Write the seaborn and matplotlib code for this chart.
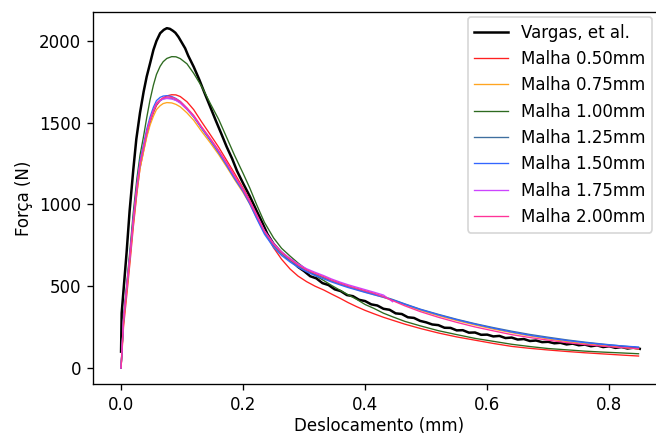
import matplotlib
matplotlib.use("Agg")
import matplotlib.pyplot as plt
import pandas as pd
import seaborn as sns

# Experimental reference curve (Vargas, et al.)
vargas_x = [0.000, 0.001, 0.005, 0.009, 0.014, 0.020, 0.025, 0.031, 0.037, 0.042,
            0.048, 0.053, 0.058, 0.064, 0.070, 0.075, 0.080, 0.085, 0.089, 0.094,
            0.0995, 0.105, 0.110, 0.119, 0.128, 0.137, 0.146, 0.155, 0.164, 0.173,
            0.182, 0.190, 0.200, 0.211, 0.222, 0.230, 0.240,
            0.25, 0.26, 0.27, 0.28, 0.29, 0.30, 0.31, 0.32, 0.33, 0.34,
            0.35, 0.36, 0.37, 0.38, 0.39, 0.40, 0.41, 0.42, 0.43, 0.44,
            0.45, 0.46, 0.47, 0.48, 0.49, 0.50, 0.51, 0.52, 0.53, 0.54,
            0.55, 0.56, 0.57, 0.58, 0.59, 0.60, 0.61, 0.62, 0.63, 0.64,
            0.65, 0.66, 0.67, 0.68, 0.69, 0.70, 0.71, 0.72, 0.73, 0.74,
            0.75, 0.76, 0.77, 0.78, 0.79, 0.80, 0.81, 0.82, 0.83, 0.84, 0.85]
vargas_y = [100, 336, 520, 703, 960, 1211, 1400, 1560, 1690, 1782,
            1870, 1945, 2000, 2047, 2068, 2078, 2074, 2062, 2050, 2025,
            1990, 1955, 1910, 1842, 1765, 1680, 1598, 1515, 1435, 1353,
            1280, 1205, 1129, 1050, 962, 900, 818,
            758, 716, 680, 655, 618, 592, 561, 548, 519, 507,
            481, 470, 446, 439, 417, 409, 389, 382, 362, 356,
            334, 330, 310, 306, 288, 279, 266, 262, 246, 245,
            230, 231, 216, 217, 203, 204, 193, 196, 183, 186,
            174, 177, 165, 168, 158, 160, 151, 154, 144, 149,
            139, 143, 133, 138, 128, 133, 123, 128, 119, 124, 117]

# Simulations, one displacement grid for all meshes
malha_x = [0.000, 0.004, 0.010, 0.015, 0.020, 0.026, 0.031, 0.037, 0.042, 0.0475,
           0.053, 0.058, 0.064, 0.069, 0.075, 0.083, 0.090, 0.097, 0.108, 0.119,
           0.132, 0.146, 0.160, 0.173, 0.186, 0.200, 0.211, 0.222, 0.235, 0.250,
           0.263, 0.277, 0.290, 0.304, 0.318, 0.332, 0.345, 0.359, 0.372, 0.386,
           0.400, 0.414, 0.430, 0.445, 0.465, 0.490, 0.520, 0.550, 0.580, 0.610,
           0.640, 0.670, 0.700, 0.730, 0.760, 0.790, 0.820, 0.848]

malha_050 = [0, 250, 470, 660, 860, 1070, 1220, 1330, 1420, 1500,
             1560, 1605, 1635, 1652, 1664, 1671, 1670, 1660, 1628, 1580,
             1505, 1428, 1350, 1270, 1190, 1100, 1025, 940, 835, 735,
             665, 605, 562, 528, 500, 477, 452, 426, 400, 375,
             352, 332, 310, 292, 268, 242, 214, 190, 170, 150,
             132, 120, 110, 101, 93, 86, 79, 73]
malha_075 = [0, 280, 500, 690, 880, 1080, 1220, 1325, 1410, 1485,
             1540, 1580, 1604, 1617, 1623, 1621, 1612, 1597, 1560, 1515,
             1447, 1378, 1305, 1230, 1152, 1073, 1002, 920, 826, 746,
             698, 658, 624, 596, 572, 550, 530, 512, 496, 480,
             464, 449, 432, 414, 386, 353, 320, 290, 263, 238,
             216, 196, 178, 162, 149, 137, 126, 116]
malha_100 = [0, 300, 540, 740, 950, 1160, 1300, 1420, 1530, 1640,
             1730, 1795, 1845, 1873, 1893, 1904, 1903, 1892, 1860, 1802,
             1722, 1619, 1520, 1410, 1300, 1190, 1100, 1000, 890, 795,
             732, 684, 642, 601, 566, 535, 505, 475, 448, 420,
             388, 365, 335, 313, 285, 258, 228, 204, 181, 163,
             145, 131, 119, 111, 103, 97, 92, 87]
malha_125 = [0, 290, 515, 700, 895, 1100, 1245, 1348, 1436, 1512,
             1570, 1612, 1635, 1646, 1650, 1648, 1638, 1622, 1582, 1535,
             1465, 1393, 1318, 1242, 1162, 1083, 1008, 925, 830, 750,
             700, 657, 624, 596, 573, 553, 533, 515, 499, 484,
             469, 454, 437, 419, 392, 360, 328, 298, 271, 247,
             225, 205, 188, 172, 158, 146, 135, 125]
malha_150 = [0, 300, 530, 715, 920, 1125, 1270, 1370, 1460, 1535,
             1595, 1635, 1655, 1663, 1665, 1660, 1648, 1630, 1588, 1540,
             1468, 1395, 1318, 1240, 1160, 1080, 1003, 915, 818, 738,
             688, 648, 616, 588, 565, 545, 526, 508, 492, 477,
             462, 448, 432, 416, 390, 358, 325, 295, 268, 243,
             220, 200, 183, 168, 155, 144, 135, 128]
# the 1.75mm run stops at about 0.445 mm
malha_175 = [0, 290, 515, 700, 898, 1105, 1248, 1350, 1438, 1514,
             1572, 1615, 1635, 1645, 1648, 1645, 1636, 1620, 1582, 1538,
             1470, 1400, 1326, 1252, 1172, 1093, 1020, 938, 840, 762,
             710, 670, 637, 607, 585, 565, 544, 525, 509, 494,
             479, 464, 446, 405]
malha_200 = [0, 294, 520, 703, 900, 1109, 1250, 1353, 1440, 1517,
             1575, 1619, 1640, 1652, 1657, 1655, 1645, 1630, 1590, 1545,
             1475, 1405, 1330, 1255, 1175, 1090, 1015, 932, 835, 756,
             706, 664, 630, 600, 578, 558, 537, 518, 502, 487,
             472, 457, 436, 412, 380, 345, 310, 279, 251, 227,
             204, 186, 170, 155, 143, 133, 125, 118]

series_names = ["Vargas, et al.", "Malha 0.50mm", "Malha 0.75mm", "Malha 1.00mm",
                "Malha 1.25mm", "Malha 1.50mm", "Malha 1.75mm", "Malha 2.00mm"]
series_y = [vargas_y, malha_050, malha_075, malha_100,
            malha_125, malha_150, malha_175, malha_200]
cores = ["black", "#ff2020", "#ffa520", "#2d6a1f",
         "#3f6f9f", "#3366ff", "#cc44ff", "#ff3399"]

frames = []
for name, vals in zip(series_names, series_y):
    xs = vargas_x if name.startswith("Vargas") else malha_x[:len(vals)]
    frames.append(pd.DataFrame({"x": xs, "y": vals, "serie": name}))
df = pd.concat(frames, ignore_index=True)

palette = dict(zip(series_names, cores))
sizes = {n: (1.5 if n.startswith("Vargas") else 0.8) for n in series_names}

fig = plt.figure(figsize=(656 / 120, 436 / 120), dpi=120)
ax = fig.add_axes([93 / 656, 52 / 436, 573 / 656, 372 / 436])

sns.lineplot(data=df, x="x", y="y", hue="serie", size="serie",
             hue_order=series_names, size_order=series_names,
             palette=palette, sizes=sizes, sort=False, estimator=None, ax=ax)

ax.set_xlim(-0.046, 0.893)
ax.set_ylim(-98, 2177)
ax.set_xticks([0.0, 0.2, 0.4, 0.6, 0.8])
ax.set_yticks([0, 500, 1000, 1500, 2000])
ax.set_xlabel("Deslocamento (mm)", labelpad=2)
ax.set_ylabel("Força (N)")

leg = ax.legend(loc="upper right", bbox_to_anchor=(652 / 656, 1 - 17 / 436),
                bbox_transform=fig.transFigure, borderaxespad=0)
leg.set_title(None)

fig.savefig("out.png", dpi=120)
